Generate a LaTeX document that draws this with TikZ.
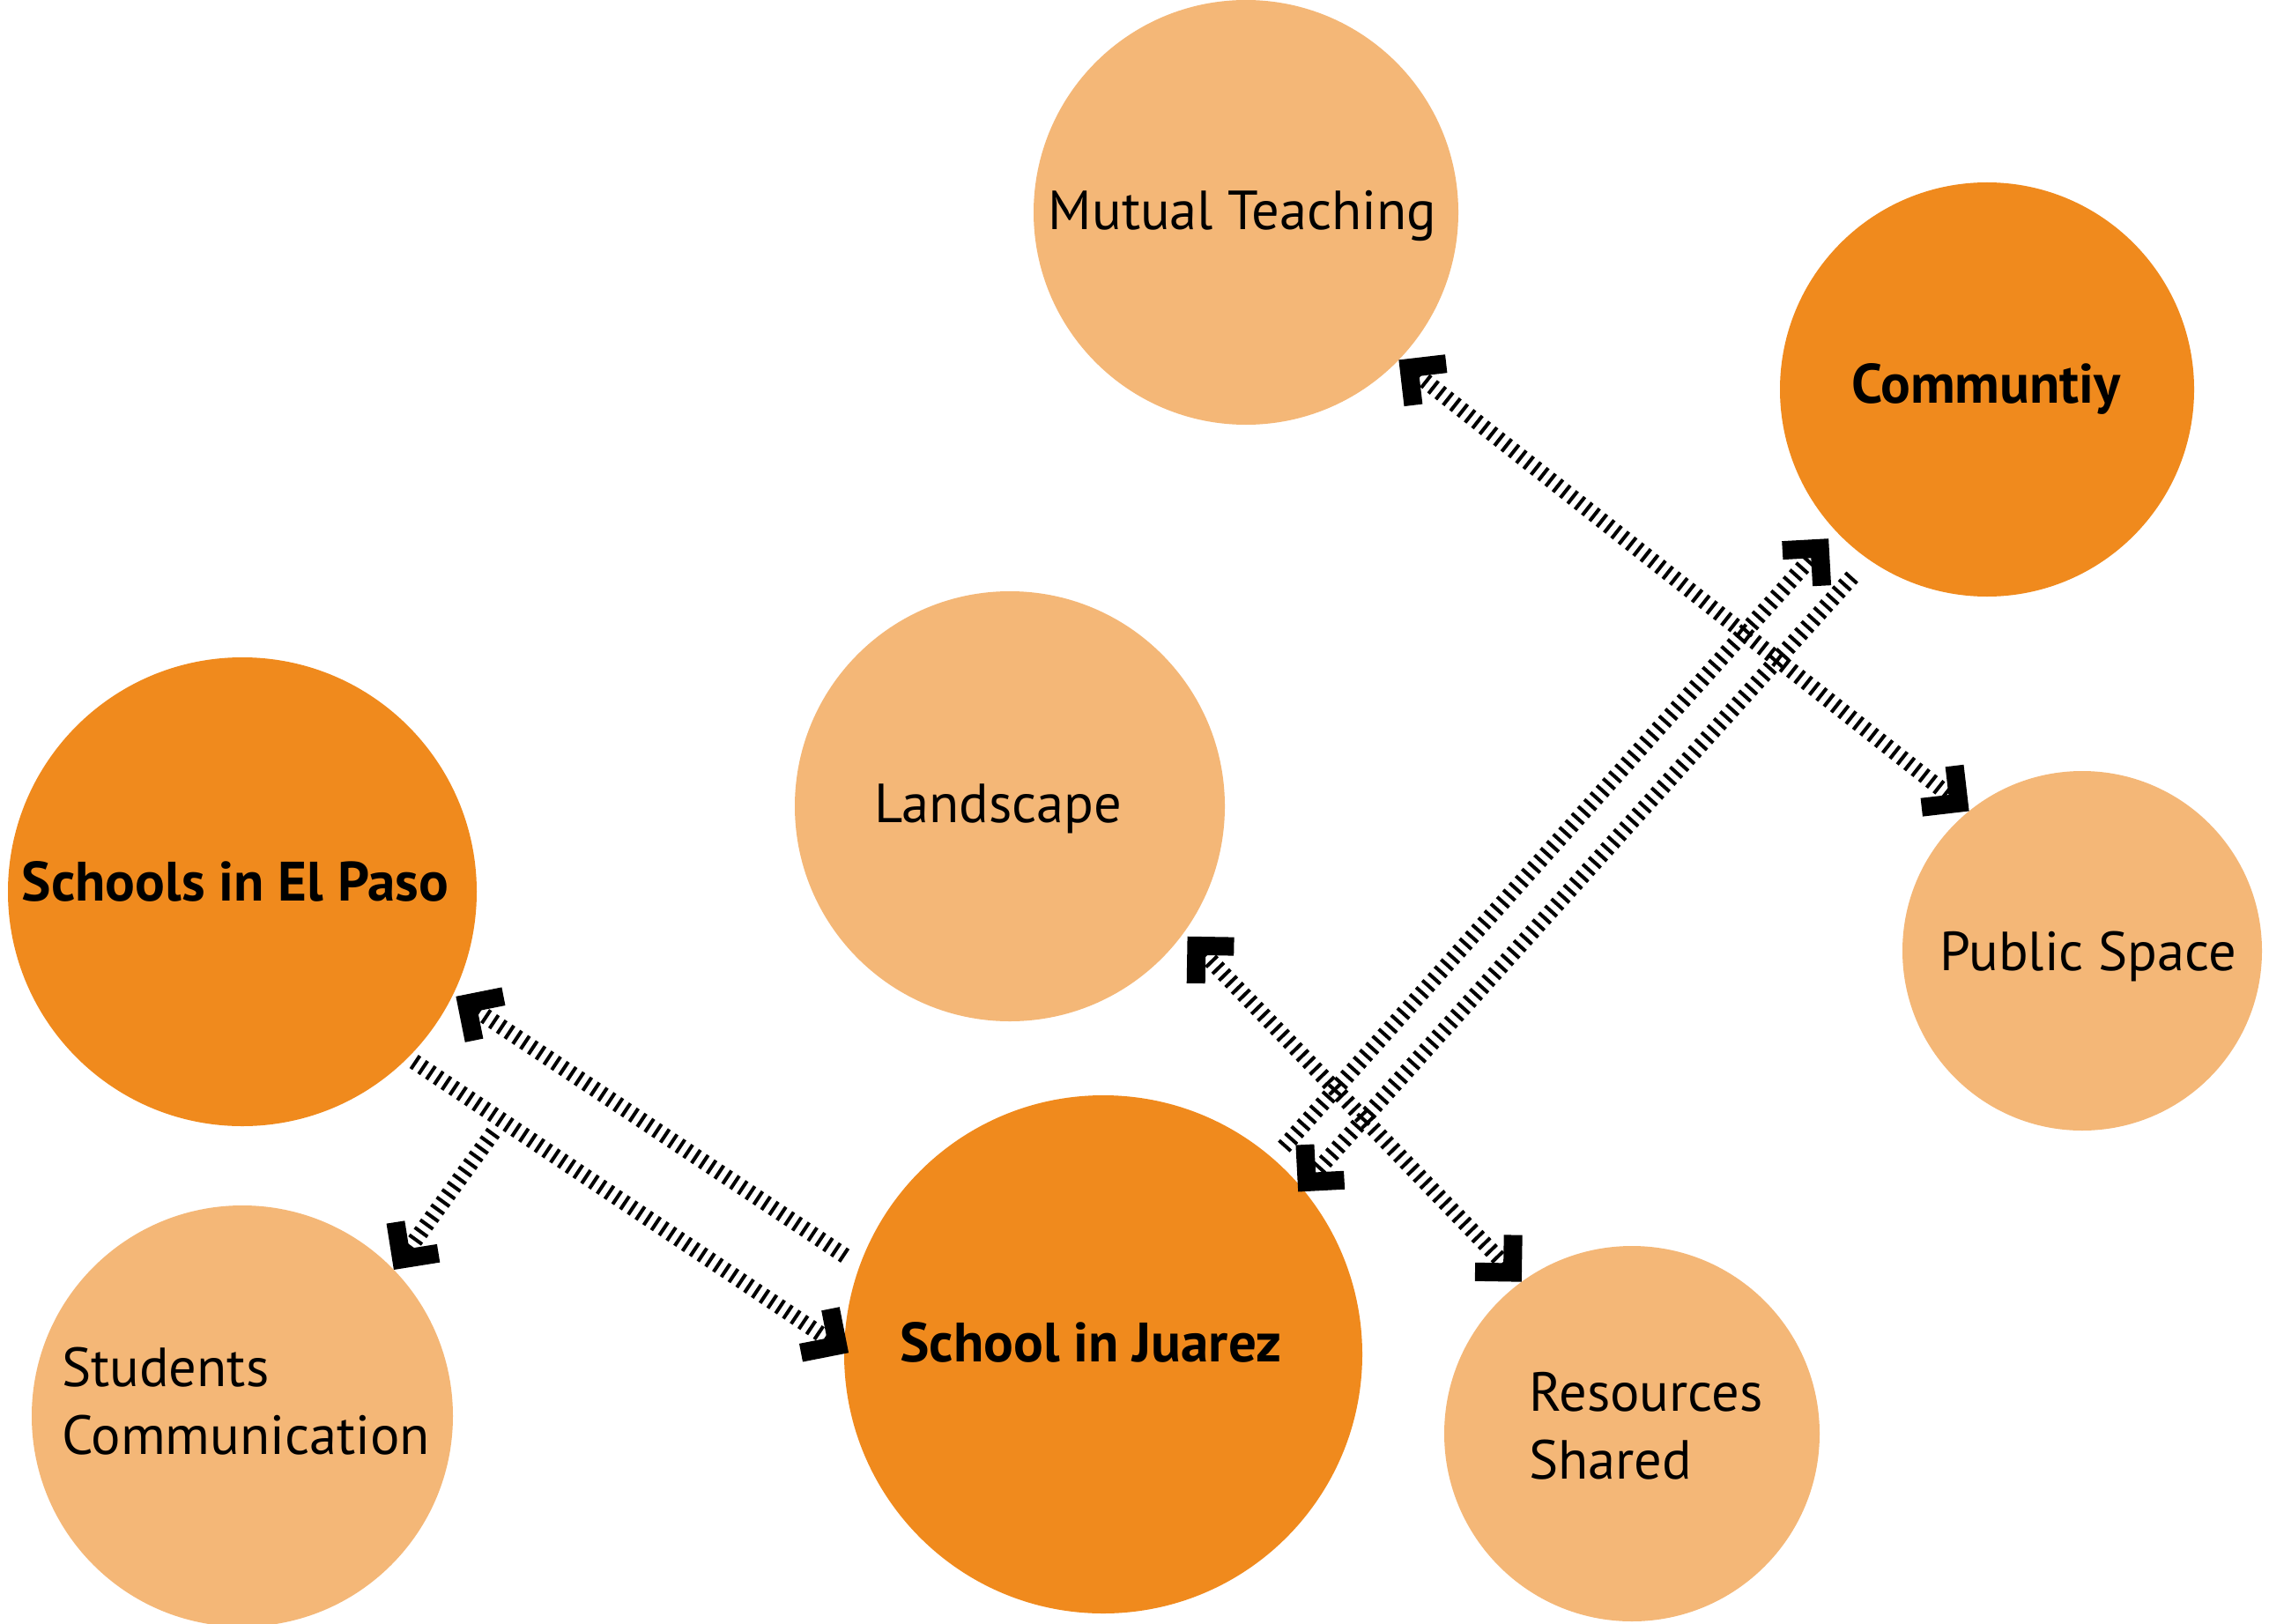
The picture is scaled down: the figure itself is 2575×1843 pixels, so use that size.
\documentclass[tikz,border=0pt]{standalone}
\usepackage{fontspec}
\setmainfont{PT Sans}
\usetikzlibrary{arrows.meta}
\definecolor{darkor}{HTML}{F08A1D}
\definecolor{lightor}{HTML}{F4B777}
\pgfdeclarearrow{
  name = Chev,
  parameters = {},
  setup code = {
    \pgfarrowssettipend{0pt}
    \pgfarrowssetlineend{-27pt}
    \pgfarrowssetbackend{-52.3pt}
    \pgfarrowsupperhullpoint{-52.3pt}{37.5pt}
    \pgfarrowsupperhullpoint{0pt}{0pt}
  },
  drawing code = {
    \pgfpathmoveto{\pgfpointorigin}
    \pgfpathlineto{\pgfpoint{-37.5pt}{37.5pt}}
    \pgfpathlineto{\pgfpoint{-52.3pt}{22.6pt}}
    \pgfpathlineto{\pgfpoint{-29.7pt}{0pt}}
    \pgfpathlineto{\pgfpoint{-52.3pt}{-22.6pt}}
    \pgfpathlineto{\pgfpoint{-37.5pt}{-37.5pt}}
    \pgfpathclose
    \pgfusepathqfill
  },
}
\begin{document}
\begin{tikzpicture}[x=1pt,y=-1pt,
  bub/.style={circle, inner sep=0pt, outer sep=0pt, draw=none},
  dark/.style={bub, fill=darkor},
  light/.style={bub, fill=lightor},
  lbl/.style={font=\fontsize{62.5pt}{77pt}\selectfont, inner sep=0pt, anchor=base},
  blbl/.style={lbl, font=\fontsize{63pt}{77pt}\selectfont\bfseries},
  link/.style={line width=18pt, dash pattern=on 4pt off 6.6pt},
]
\useasboundingbox (0,0) rectangle (2575,1843);
\fill[white] (0,0) rectangle (2575,1843);
\clip (0,0) rectangle (2575,1843);

% circles
\node[light, minimum size=482pt] (mt) at (1414,241) {};
\node[dark,  minimum size=470pt] (cm) at (2255,442) {};
\node[light, minimum size=488pt] (ls) at (1146,915) {};
\node[light, minimum size=408pt] (ps) at (2363,1079) {};
\node[dark,  minimum size=532pt] (ep) at (275,1012) {};
\node[light, minimum size=478pt] (sc) at (275,1607) {};
\node[dark,  minimum size=588pt] (sj) at (1252,1537) {};
\node[light, minimum size=426pt] (rs) at (1852,1627) {};

% texts
\node[lbl]  (tmt) at (1410,261) {Mutual Teaching};
\node[blbl] (tcm) at (2254,457) {Communtiy};
\node[lbl]  (tls) at (1133,933) {Landscape};
\node[lbl]  (tps) at (2370,1101) {Public Space};
\node[blbl] (tep) at (267,1022) {Schools in El Paso};
\node[blbl] (tsj) at (1238,1545) {School in Juarez};
\node[lbl, anchor=base west, align=left] (tsc) at (70,1650) {Students\\Communication};
\node[lbl, anchor=base west, align=left] (trs) at (1735,1678) {Resources\\Shared};

% connectors
\coordinate (es) at (560,1285);
\draw[link, {Chev}-{Chev}] (mt.-44) -- (ps.129.8);
\draw[link, -{Chev}, shorten <=18pt, shorten >=12pt] (sj.49.9) -- (cm.223.2);
\draw[link, -{Chev}, shorten <=27pt, shorten >=-6pt] (cm.235.4) -- (sj.40);
\draw[link, {Chev}-{Chev}, shorten <=6pt] (ls.-36.2) -- (rs.126.4);
\draw[link, -{Chev}, shorten <=20pt, shorten >=4pt] (sj.160.7) -- (ep.-26.4);
\draw[link, -{Chev}, shorten <=8pt, shorten >=-6pt] (ep.-45.3) -- (sj.179.6);
\draw[link, -{Chev}] (es) -- (sc.44.5);
\end{tikzpicture}
\end{document}
